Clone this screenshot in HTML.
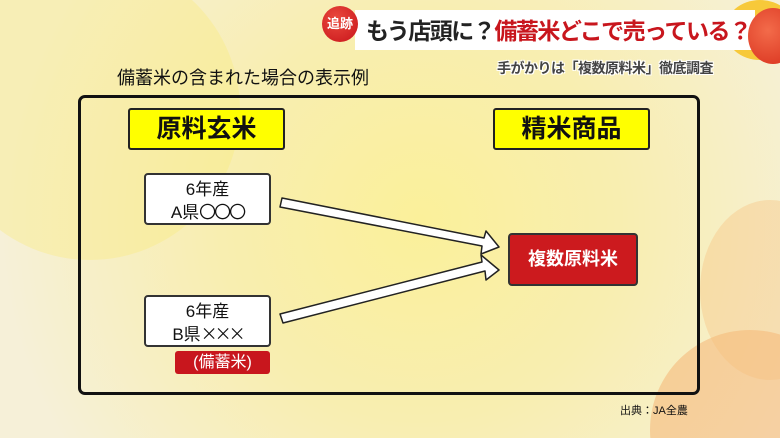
<!DOCTYPE html>
<html style="width:780px;height:438px;overflow:hidden"><head><meta charset="utf-8"><style>
body{margin:0;width:780px;height:438px;overflow:hidden;position:relative;font-family:"Liberation Sans","Noto Sans CJK JP",sans-serif;
background:radial-gradient(circle at 420px 220px,#fbf09a 0,#f8eeb0 200px,#f6f0d8 420px);}
.abs{position:absolute}
.box{position:absolute;background:#fff;border:2px solid #333;border-radius:4px;text-align:center;font-size:17px;line-height:21px;color:#111;box-sizing:border-box;padding-top:4px}
.yl{position:absolute;background:#ffff00;border:2px solid #222;border-radius:3px;font-size:25px;font-weight:bold;text-align:center;line-height:38px;box-sizing:border-box;color:#111}
.cjk{font-family:"Noto Sans CJK JP",sans-serif}
</style></head><body>
<div class="abs" style="left:-60px;top:-40px;width:300px;height:300px;border-radius:50%;background:rgba(250,235,120,.35)"></div>
<div class="abs" style="left:650px;top:330px;width:200px;height:200px;border-radius:50%;background:rgba(245,175,110,.5)"></div>
<div class="abs" style="left:700px;top:200px;width:140px;height:180px;border-radius:50%;background:rgba(245,190,120,.35)"></div>
<div class="abs" style="left:725px;top:0;width:70px;height:60px;border-radius:50%;background:#f7c93a"></div>
<div class="abs" style="left:355px;top:10px;width:400px;height:40px;background:#fff;"></div>
<div class="abs" style="left:748px;top:8px;width:50px;height:56px;border-radius:50%;background:radial-gradient(circle at 40% 40%,#f36b4a,#d8301c)"></div>
<div class="abs" style="left:322px;top:6px;width:36px;height:36px;border-radius:50%;background:radial-gradient(circle at 40% 35%,#ea4a3e,#c8141a);color:#fff;font-size:13px;font-weight:bold;line-height:36px;text-align:center">追跡</div>
<div class="abs" style="left:366px;top:12px;font-size:23px;letter-spacing:-1.5px;font-weight:bold;line-height:38px;white-space:nowrap;color:#222">もう店頭に？<span style="color:#c8161d">備蓄米どこで売っている？</span></div>
<div class="abs" style="left:497px;top:58px;font-size:14px;letter-spacing:-0.5px;font-weight:bold;color:#444;white-space:nowrap;text-shadow:1px 1px 0 #fff,-1px -1px 0 #fff,1px -1px 0 #fff,-1px 1px 0 #fff">手がかりは「複数原料米」徹底調査</div>
<div class="abs" style="left:117px;top:64px;font-size:18px;color:#111;white-space:nowrap">備蓄米の含まれた場合の表示例</div>
<div class="abs" style="left:78px;top:95px;width:622px;height:300px;border:3px solid #111;border-radius:7px;box-sizing:border-box"></div>
<div class="yl" style="left:128px;top:108px;width:157px;height:42px">原料玄米</div>
<div class="yl" style="left:493px;top:108px;width:157px;height:42px">精米商品</div>
<div class="box" style="left:144px;top:173px;width:127px;height:52px">6年産<br>A県<span class="cjk" style="letter-spacing:-2px">〇〇〇</span></div>
<div class="box" style="left:144px;top:295px;width:127px;height:52px">6年産<br>B県<span class="cjk" style="letter-spacing:-3px">×××</span></div>
<div class="abs" style="left:175px;top:351px;width:95px;height:23px;background:#c8161d;border-radius:3px;color:#fff;font-size:16px;line-height:23px;text-align:center">(備蓄米)</div>
<div class="abs" style="left:508px;top:233px;width:130px;height:53px;background:#cc1a1e;border:2px solid #333;border-radius:4px;box-sizing:border-box;color:#fff;font-size:18px;font-weight:bold;line-height:49px;text-align:center">複数原料米</div>
<svg class="abs" style="left:0;top:0" width="780" height="438">
<g fill="#fff" stroke="#222" stroke-width="1.5" stroke-linejoin="round">
<polygon points="282,198 484,238 486,231 499,247 481,254 482,246 280,207"/>
<polygon points="280,314 482,262 481,255 499,270 486,280 485,271 283,323"/>
</g></svg>
<div class="abs" style="left:620px;top:402px;font-size:11px;color:#111">出典：JA全農</div>
</body></html>
